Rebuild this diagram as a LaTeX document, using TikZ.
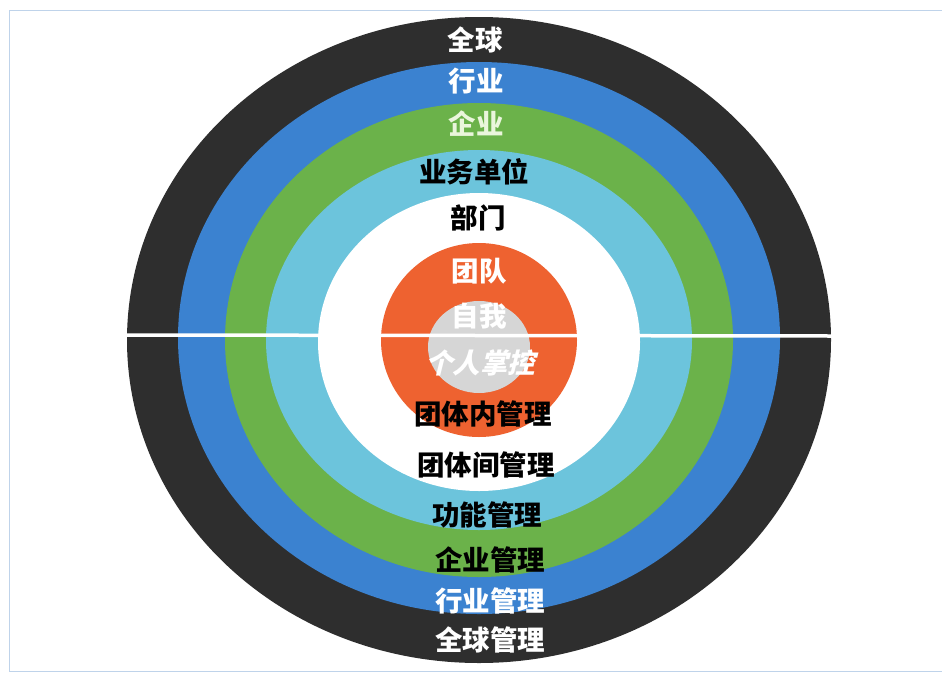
\documentclass[tikz,border=0pt]{standalone}
\usepackage{fontspec}
\newfontfamily\cjk{Noto Sans CJK SC}
\newfontfamily\cjkit{Noto Sans CJK SC}[FakeSlant=0.25]
\definecolor{ringblack}{HTML}{2E2E2E}
\definecolor{ringblue}{HTML}{3B82D0}
\definecolor{ringgreen}{HTML}{6BB24A}
\definecolor{ringlight}{HTML}{6CC4DC}
\definecolor{ringorange}{HTML}{EE6230}
\definecolor{ringgrey}{HTML}{D6D6D6}
\definecolor{framecol}{HTML}{BFD3EA}
\definecolor{palegreen}{HTML}{EAF6DC}
\tikzset{
  lbl/.style={font=\cjk\bfseries\fontsize{27.5}{27.5}\selectfont, inner sep=0pt, anchor=center},
  lblw/.style={lbl, text=white},
  lblk/.style={lbl, text=black},
}
\begin{document}
\begin{tikzpicture}[x={(1pt,0)}, y={(0,-1pt)}]
\useasboundingbox (0,0) rectangle (942,675);
\fill[white] (0,0) rectangle (942,675);
% frame
\draw[framecol, line width=1pt] (942,10) -- (9,10) -- (9,671) -- (942,671);
% rings
\fill[ringblack]  (479,340) ellipse [x radius=352, y radius=323];
\fill[ringblue]   (479,338) ellipse [x radius=301, y radius=276];
\fill[ringgreen]  (479,340) ellipse [x radius=254, y radius=237];
\fill[ringlight]  (479,340) ellipse [x radius=213, y radius=190];
\fill[white]      (479,342) ellipse [x radius=161, y radius=149];
\fill[ringorange] (479,340) ellipse [x radius=98, y radius=97];
\fill[ringgrey]   (479,347) ellipse [x radius=51, y radius=46];
% divider
\coordinate (dl) at (127,335);
\coordinate (dr) at (832,336);
\draw[white, line width=3.5pt] (dl) -- (dr);
% labels
\node[lblw] (t1) at (475,40) {全球};
\node[lblw] (t2) at (476,81) {行业};
\node[lbl, text=palegreen] (t3) at (476,124) {企业};
\node[lblk] (t4) at (474,172) {业务单位};
\node[lblk] (t5) at (478,218) {部门};
\node[lblw] (t6) at (479,271) {团队};
\node[lblw] (t7) at (479,316) {自我};
\node[lbl, text=white, font=\cjkit\bfseries\fontsize{27.5}{27.5}\selectfont] (t8) at (480,363) {个人掌控};
\node[lblk] (t9) at (483,414) {团体内管理};
\node[lblk] (t10) at (486,465) {团体间管理};
\node[lblk] (t11) at (487,515) {功能管理};
\node[lblk] (t12) at (490,560) {企业管理};
\node[lblw] (t13) at (490,601) {行业管理};
\node[lblw] (t14) at (490,640) {全球管理};
\end{tikzpicture}
\end{document}
